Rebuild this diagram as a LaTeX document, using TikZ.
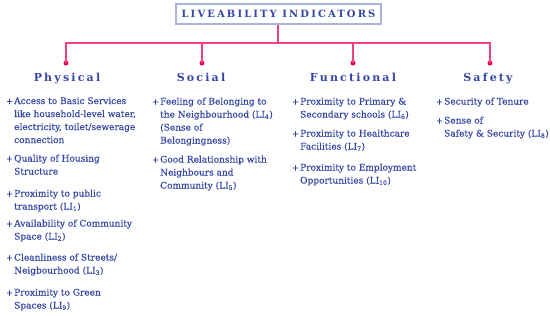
\documentclass[tikz,border=0pt]{standalone}
\usepackage{fontspec}
\setmainfont{DejaVu Serif}[FakeBold=0.35]
\newfontfamily\hdfont{DejaVu Serif}[LetterSpace=20]
\newfontfamily\ttlfont{DejaVu Serif}[LetterSpace=21]
\definecolor{txtblue}{HTML}{3546A6}
\definecolor{boxblue}{HTML}{AAB2DE}
\definecolor{linkpink}{HTML}{F2437F}
\definecolor{dotpink}{HTML}{E8005E}
\tikzset{
  link/.style={draw=linkpink, line width=1.3pt},
  dot/.style={circle, fill=dotpink, inner sep=0pt, minimum size=5pt},
  hdr/.style={anchor=base, inner sep=0pt, text=txtblue, font=\hdfont\fontsize{11}{14}\selectfont\bfseries},
  plus/.style={anchor=base west, inner sep=0pt, text=txtblue, font=\fontsize{8}{13}\selectfont},
  item/.style={anchor=base west, inner sep=0pt, text=txtblue, font=\fontsize{9}{13}\selectfont},
}
\newcommand{\lines}[1]{\begin{tabular}[t]{@{}l@{}}#1\end{tabular}}
\newcommand{\li}[1]{LI\textsubscript{#1}}
\begin{document}
\begin{tikzpicture}[x=1pt,y=-1pt]
\useasboundingbox (0,0) rectangle (550,316);
% title
\node[draw=boxblue, line width=1.2pt, minimum width=205pt, minimum height=20pt, inner sep=0pt,
      text=txtblue, font=\ttlfont\fontsize{10}{12}\selectfont\bfseries] (title) at (278.5,14) {LIVEABILITY INDICATORS};
\coordinate (hub) at (278,43);
\coordinate (c1) at (66,43);
\coordinate (c2) at (202,43);
\coordinate (c3) at (353,43);
\coordinate (c4) at (490,43);
\node[dot] (d1) at (66,63) {};
\node[dot] (d2) at (202,63) {};
\node[dot] (d3) at (353,63) {};
\node[dot] (d4) at (490,63) {};
\draw[link] (title.south -| hub) -- (hub);
\draw[link] (d1.center) -- (c1) -- (c4) -- (d4.center);
\draw[link] (c2) -- (d2.center);
\draw[link] (c3) -- (d3.center);
% headers
\node[hdr] (h1) at (67,81.5) {Physical};
\node[hdr] (h2) at (201,81.5) {Social};
\node[hdr] (h3) at (353,81.5) {Functional};
\node[hdr] (h4) at (488,81.5) {Safety};
% Physical
\node[plus] (p1) at (6,104) {+};
\node[item] (t1) at (14,104) {\lines{Access to Basic Services\\like household-level water,\\electricity, toilet/sewerage\\connection}};
\node[plus] (p2) at (6,161.5) {+};
\node[item] (t2) at (14,161.5) {\lines{Quality of Housing\\Structure}};
\node[plus] (p3) at (6,196.5) {+};
\node[item] (t3) at (14,196.5) {\lines{Proximity to public\\ transport (\li{1})}};
\node[plus] (p4) at (6,226.5) {+};
\node[item] (t4) at (14,226.5) {\lines{Availability of Community\\Space (\li{2})}};
\node[plus] (p5) at (6,260.5) {+};
\node[item] (t5) at (14,260.5) {\lines{Cleanliness of Streets/\\Neigbourhood (\li{3})}};
\node[plus] (p6) at (6,295.5) {+};
\node[item] (t6) at (14,295.5) {\lines{Proximity to Green\\Spaces (\li{9})}};
% Social
\node[plus] (s1) at (152,104.5) {+};
\node[item] (u1) at (160,104.5) {\lines{Feeling of Belonging to\\the Neighbourhood (\li{4})\\(Sense of\\Belongingness)}};
\node[plus] (s2) at (152,162.5) {+};
\node[item] (u2) at (160,162.5) {\lines{Good Relationship with\\Neighbours and\\Community (\li{5})}};
% Functional
\node[plus] (f1) at (292,104.5) {+};
\node[item] (g1) at (300,104.5) {\lines{Proximity to Primary \&\\Secondary schools (\li{6})}};
\node[plus] (f2) at (292,136.5) {+};
\node[item] (g2) at (300,136.5) {\lines{Proximity to Healthcare\\Facilities (\li{7})}};
\node[plus] (f3) at (292,170.5) {+};
\node[item] (g3) at (300,170.5) {\lines{Proximity to Employment\\Opportunities (\li{10})}};
% Safety
\node[plus] (a1) at (436,104.5) {+};
\node[item] (b1) at (444,104.5) {\lines{Security of Tenure}};
\node[plus] (a2) at (436,123.5) {+};
\node[item] (b2) at (444,123.5) {\lines{Sense of\\Safety \& Security (\li{8})}};
\end{tikzpicture}
\end{document}
